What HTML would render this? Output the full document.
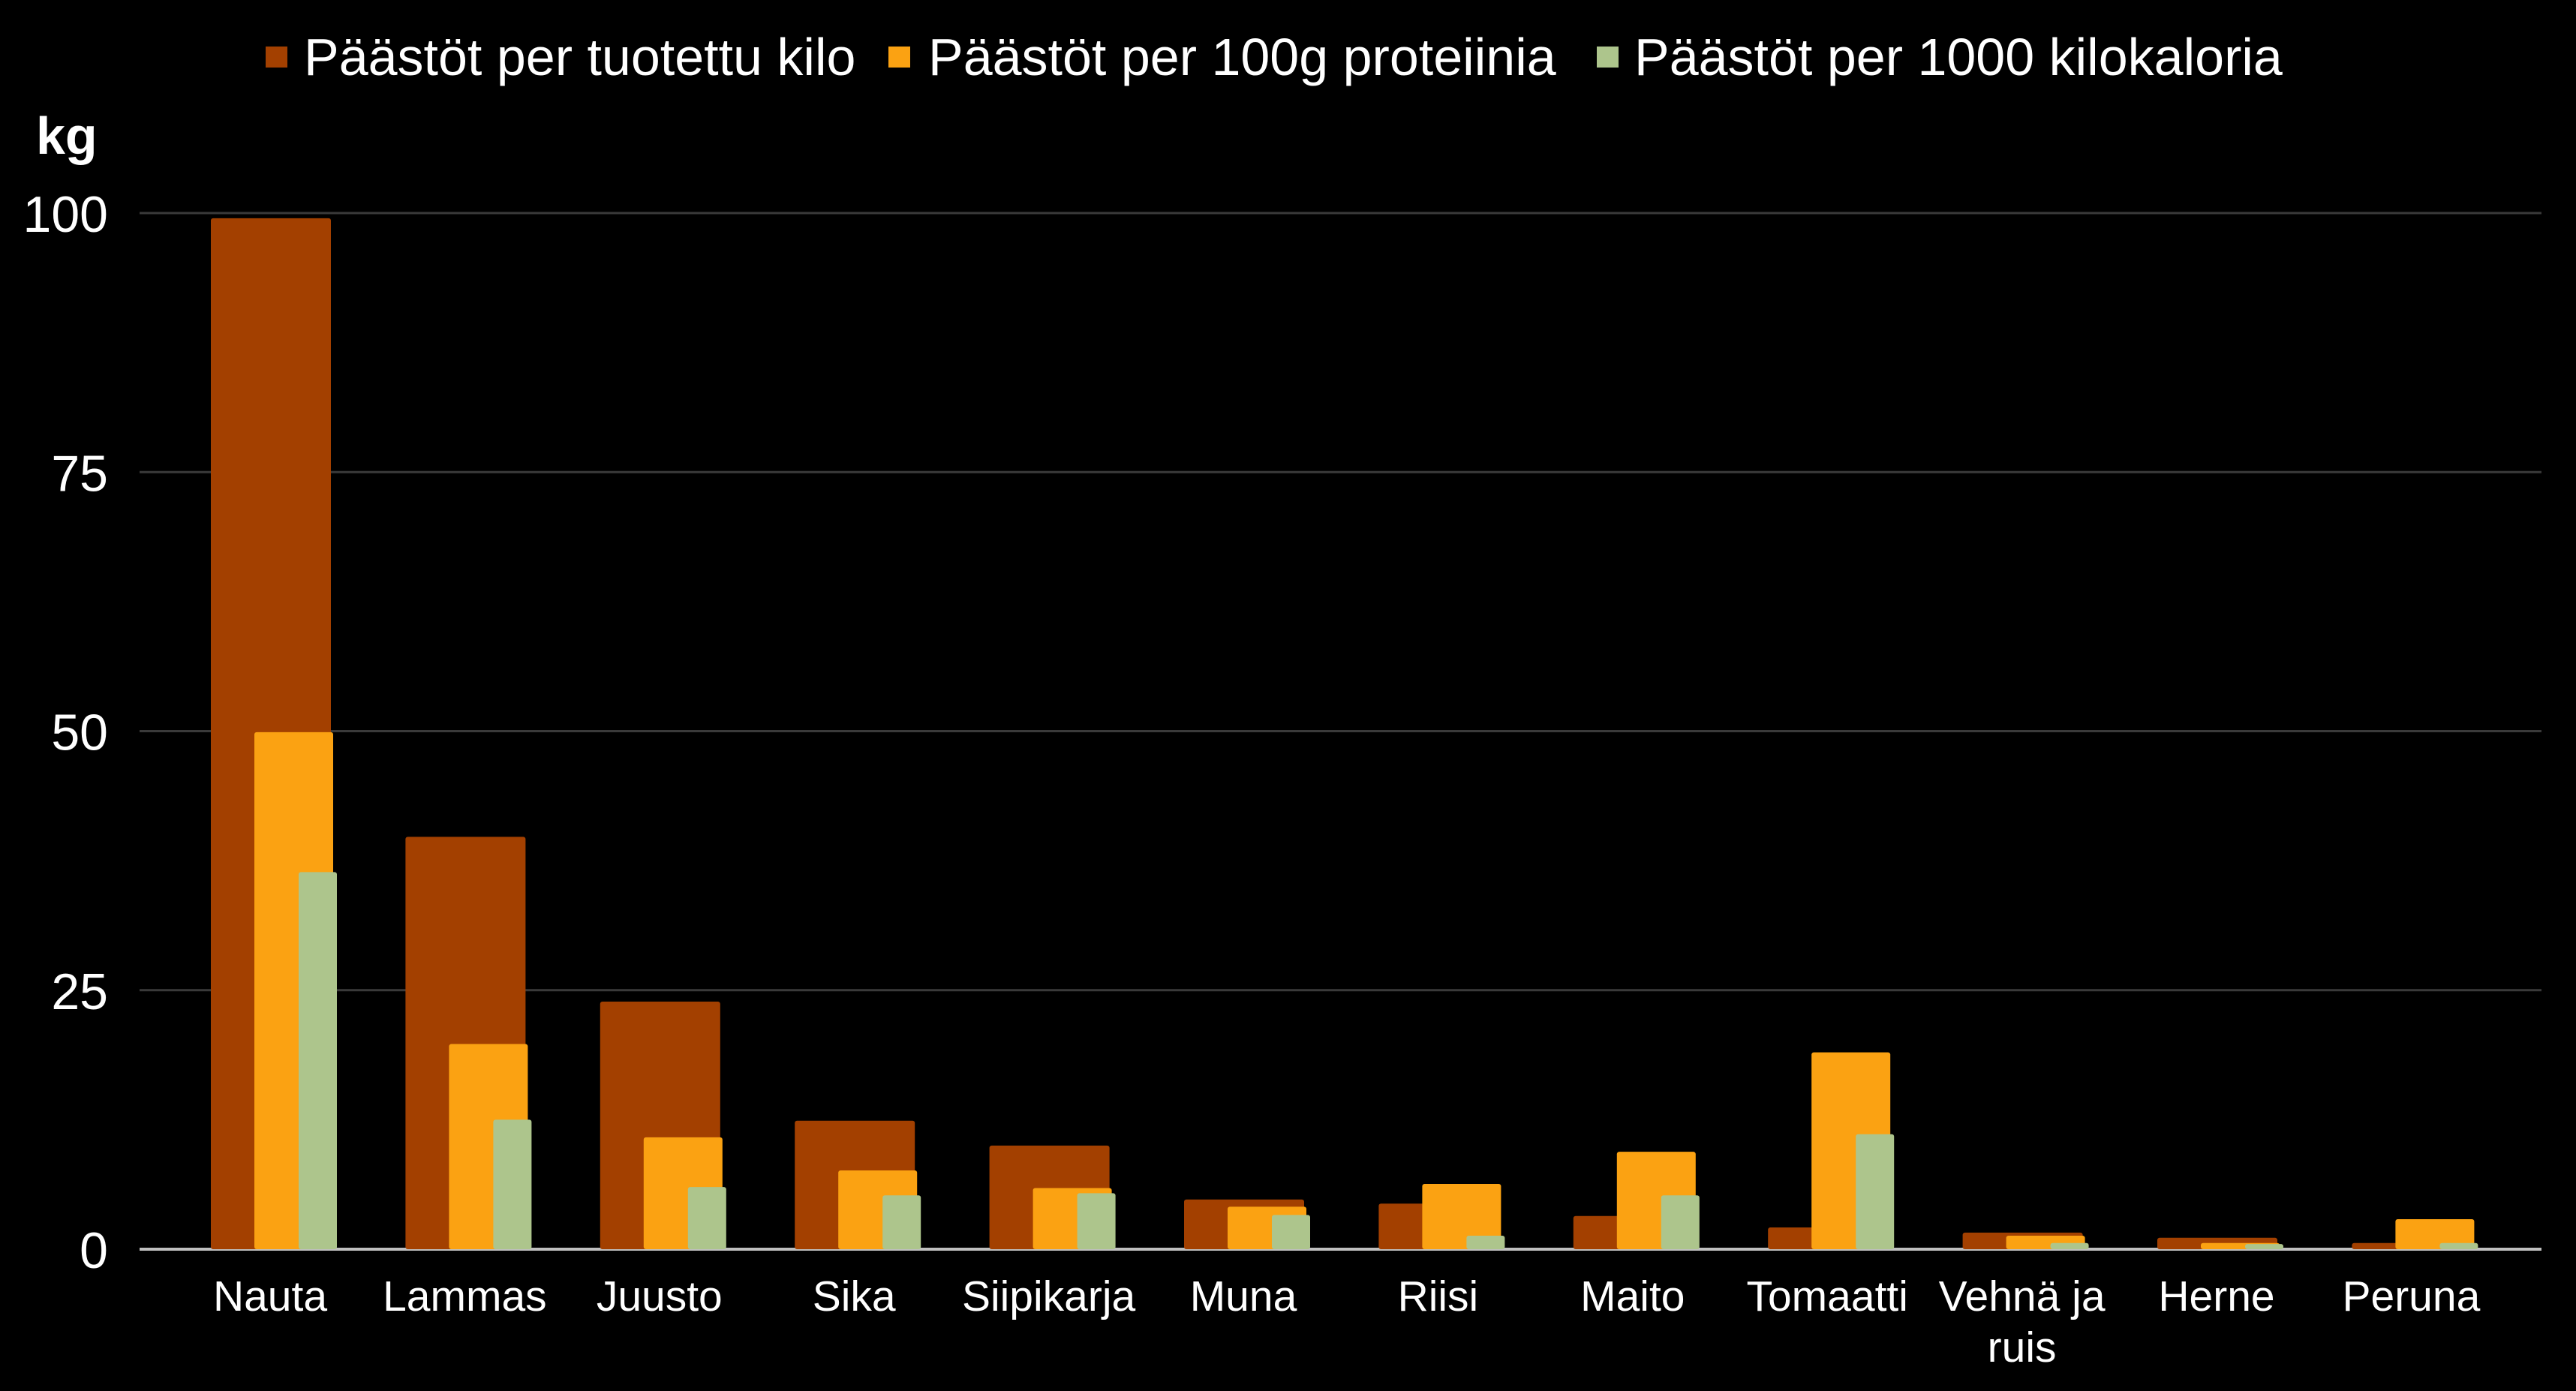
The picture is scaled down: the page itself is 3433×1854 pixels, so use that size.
<!DOCTYPE html>
<html><head><meta charset="utf-8"><style>
html,body{margin:0;padding:0;background:#000;}
svg{display:block;font-family:"Liberation Sans",Arial,sans-serif;}
</style></head><body>
<svg id="chart" width="3433" height="1854" viewBox="0 0 3433 1854" xmlns="http://www.w3.org/2000/svg">
<rect x="0" y="0" width="3433" height="1854" fill="#000"/>
<g id="legend">
  <g>
    <rect x="354" y="62" width="29" height="28" fill="#A34000"/>
    <text x="405" y="100" font-size="70" fill="#fff">Päästöt per tuotettu kilo</text>
  </g>
  <g>
    <rect x="1184" y="62" width="29" height="28" fill="#FBA212"/>
    <text x="1237" y="100" font-size="70" fill="#fff">Päästöt per 100g proteiinia</text>
  </g>
  <g>
    <rect x="2128" y="62" width="29" height="28" fill="#ADC58C"/>
    <text x="2178" y="100" font-size="70" fill="#fff">Päästöt per 1000 kilokaloria</text>
  </g>
</g>
<text x="48" y="205" font-size="70" font-weight="bold" fill="#fff">kg</text>
<g id="grid"></g>
<g id="bars"></g>
<g id="xlabels"></g>
</svg>
<script>
const categories = [["Nauta"],["Lammas"],["Juusto"],["Sika"],["Siipikarja"],["Muna"],["Riisi"],["Maito"],["Tomaatti"],["Vehnä ja","ruis"],["Herne"],["Peruna"]];
const perKilo = [99.5, 39.8, 23.9, 12.4, 10.0, 4.8, 4.4, 3.2, 2.1, 1.6, 1.1, 0.6];
const perProtein = [49.9, 19.8, 10.8, 7.6, 5.9, 4.1, 6.3, 9.4, 19.0, 1.3, 0.6, 2.9];
const perKcal = [36.4, 12.5, 6.0, 5.2, 5.4, 3.3, 1.3, 5.2, 11.1, 0.6, 0.5, 0.6];
const yTicks = [0, 25, 50, 75, 100];

const NS = "http://www.w3.org/2000/svg";
const plotL = 186, plotR = 3387, y0 = 1665, y100 = 284;
function yScale(v){ return y0 - (v/100)*(y0 - y100); }
function xCenter(i){ return 360 + i*259.4; }
function mk(tag, attrs, parent){ const e = document.createElementNS(NS, tag); for (const k in attrs) e.setAttribute(k, attrs[k]); parent.appendChild(e); return e; }

const grid = document.getElementById('grid');
yTicks.forEach(t => {
  const y = yScale(t);
  const ln = mk('line', {x1: plotL, x2: plotR, y1: y, y2: y, stroke: t === 0 ? '#bfbfbf' : '#3a3a3a', 'stroke-width': t === 0 ? 4 : 3}, grid);
  
  
  const tx = mk('text', {x: 144, y: y + 25, 'font-size': 68, fill: '#fff', 'text-anchor': 'end'}, grid);
  tx.textContent = t;
  
  
});

const bars = document.getElementById('bars');
const series = [
  {vals: perKilo, color: '#A34000', off: -79, w: 160, name: 'per-kilo'},
  {vals: perProtein, color: '#FBA212', off: -21, w: 105, name: 'per-protein'},
  {vals: perKcal, color: '#ADC58C', off: 38, w: 51, name: 'per-kcal'}
];
series.forEach(s => {
  s.vals.forEach((v, i) => {
    const top = yScale(v);
    const r = mk('rect', {x: xCenter(i) + s.off, y: top, width: s.w, height: Math.max(0, y0 - top), fill: s.color, rx: 3}, bars);
    
    
  });
});

const xl = document.getElementById('xlabels');
categories.forEach((c, i) => {
  const t = mk('text', {x: xCenter(i), y: 1747, 'font-size': 57, fill: '#fff', 'text-anchor': 'middle'}, xl);
  
  
  c.forEach((line, j) => {
    const ts = mk('tspan', {x: xCenter(i), dy: j === 0 ? 0 : 68}, t);
    ts.textContent = line;
  });
});
</script>
</body></html>
